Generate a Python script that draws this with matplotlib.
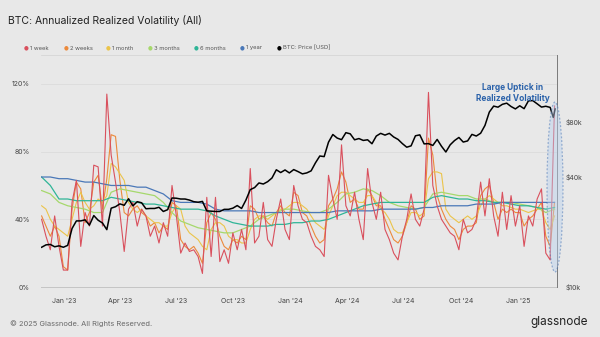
import numpy as np
import matplotlib
matplotlib.use('Agg')
import matplotlib.pyplot as plt
import matplotlib.dates as mdates
from matplotlib.patches import Ellipse
from matplotlib.ticker import FuncFormatter, FixedLocator, NullLocator

plt.rcParams['font.family'] = ['Inter', 'DejaVu Sans']

# weekly samples starting 2022-11-26 (annualized vol, %)
vol_1w = [40, 30, 22, 42, 24, 10, 10, 50, 63, 24, 44, 36, 72, 71, 36, 114, 78, 62, 44, 21, 46, 50, 36, 46, 42,
          30, 36, 26, 38, 30, 60, 42, 20, 26, 21, 22, 18, 8, 53, 18, 53, 15, 22, 14, 32, 22, 34, 22, 70, 26,
          30, 50, 28, 24, 40, 52, 34, 28, 60, 48, 40, 38, 30, 24, 22, 18, 66, 52, 40, 84, 48, 42, 56, 40,
          28, 70, 50, 40, 56, 34, 28, 20, 16, 30, 40, 55, 40, 36, 46, 115, 60, 48, 40, 36, 32, 30, 22, 40, 32,
          34, 40, 62, 42, 64, 42, 30, 56, 34, 54, 36, 48, 24, 42, 36, 52, 58, 20, 16, 107]
vol_2w = [42, 36, 30, 36, 30, 12, 10, 46, 62, 58, 38, 44, 62, 66, 46, 64, 90, 89, 63, 44, 42, 46, 48, 44, 42,
          36, 38, 32, 36, 34, 50, 48, 28, 24, 22, 24, 20, 14, 38, 44, 40, 30, 24, 22, 28, 26, 30, 28, 48, 46,
          40, 42, 38, 36, 44, 48, 44, 42, 56, 54, 44, 42, 36, 30, 26, 28, 48, 52, 58, 68, 62, 50, 52, 46,
          46, 58, 54, 48, 48, 40, 34, 28, 26, 30, 38, 48, 46, 40, 42, 88, 78, 54, 46, 40, 36, 34, 28, 34, 36,
          36, 38, 54, 58, 60, 50, 40, 46, 44, 46, 44, 44, 36, 40, 42, 46, 50, 30, 24, 50]
vol_1m = [48, 46, 40, 36, 34, 32, 30, 40, 50, 56, 50, 46, 48, 52, 50, 54, 73, 71, 67, 63, 50, 46, 44, 46, 42,
          40, 38, 38, 36, 36, 44, 48, 46, 36, 32, 30, 28, 24, 22, 34, 38, 38, 36, 30, 28, 28, 26, 26, 34, 40,
          42, 42, 40, 42, 44, 46, 46, 48, 50, 50, 48, 46, 42, 38, 36, 34, 42, 48, 54, 56, 56, 54, 52, 50,
          50, 54, 54, 50, 46, 44, 40, 34, 32, 32, 38, 44, 44, 42, 44, 64, 68, 68, 67, 46, 42, 40, 38, 40, 42,
          40, 42, 48, 52, 54, 52, 50, 48, 48, 47, 46, 46, 45, 44, 45, 46, 46, 38, 34, 42]

# two-weekly samples for the slower windows
vol_3m = [57, 55, 50, 48, 47, 46, 44, 44, 56, 58, 57, 56, 55, 54, 50, 44, 39, 37, 35, 34,
          33, 32, 32, 34, 36, 40, 42, 44, 46, 46, 45, 44, 44, 46, 50, 55, 56, 58, 57, 54,
          50, 48, 47, 46, 47, 55, 56, 55, 54, 54, 52, 52, 50, 50, 50, 49, 48, 47, 44, 46]
vol_6m = [65, 60, 52, 52, 51, 51, 51, 51, 53, 52, 51, 50, 49, 49, 48, 47, 46, 46, 46, 45,
          42, 40, 38, 37, 36, 36, 36, 37, 37, 38, 38, 39, 39, 40, 42, 44, 46, 48, 49, 50,
          50, 50, 50, 50, 50, 53, 54, 53, 52, 52, 51, 51, 50, 50, 49, 48, 48, 47, 46, 47]
vol_1y = [65, 65, 64, 64, 63, 62, 62, 61, 60, 60, 60, 59, 59, 57, 55, 51, 50, 50, 50, 49,
          46, 45, 45, 45, 45, 44, 44, 44, 44, 44, 44, 44, 44, 44, 45, 45, 45, 45, 45, 46,
          46, 46, 46, 46, 47, 47, 48, 48, 48, 48, 49, 49, 49, 50, 50, 50, 50, 50, 50, 50]

# BTC price in $k, weekly, plus the last days
price_k = [16.5, 17.0, 17.1, 16.6, 16.8, 16.5, 16.9, 20.9, 23.0, 23.0,
           23.3, 21.8, 24.6, 23.2, 22.4, 20.6, 27.0, 27.5, 28.5, 28.0,
           30.4, 27.8, 29.3, 28.9, 26.8, 26.9, 26.9, 27.3, 25.9, 26.5,
           30.7, 30.6, 30.3, 30.3, 29.9, 29.3, 29.1, 29.4, 26.1, 26.0,
           25.9, 25.9, 26.6, 26.6, 27.0, 27.9, 26.9, 29.9, 34.1, 35.0,
           37.1, 36.6, 37.7, 39.5, 43.8, 42.3, 43.7, 42.1, 43.9, 42.8,
           41.6, 42.1, 43.2, 47.8, 52.1, 51.7, 62.0, 68.3, 65.3, 64.0,
           69.9, 68.9, 63.9, 64.9, 63.4, 63.9, 60.8, 67.0, 69.3, 67.8,
           69.3, 66.2, 64.2, 60.9, 58.2, 59.2, 67.2, 68.0, 60.7, 60.9,
           59.5, 64.2, 58.9, 54.8, 60.0, 63.3, 65.8, 62.1, 63.0, 68.4,
           67.0, 69.4, 76.6, 90.6, 97.7, 96.4, 99.9, 101.4, 97.2, 94.3,
           98.1, 94.6, 104.4, 104.7, 100.6, 96.5, 97.5, 96.1]
price_tail_dates = ['2025-02-27', '2025-03-02']
price_tail_k = [84.7, 94.2]

legend_labels = ['1 week', '2 weeks', '1 month', '3 months', '6 months', '1 year', 'BTC: Price [USD]']
colors = ['#d9505d', '#ec8a3c', '#ebc44a', '#a6d86c', '#2fb597', '#4a78b8', '#000000']

start = np.datetime64('2022-11-26')
week_dates = start + np.arange(len(vol_1w)) * np.timedelta64(7, 'D')
slow_dates = start + np.arange(len(vol_3m)) * np.timedelta64(14, 'D')
price_dates = np.concatenate([week_dates[:len(price_k)],
                              np.array(price_tail_dates, dtype='datetime64[D]')])
price = np.array(price_k + price_tail_k) * 1000

bg = '#e8e8e8'
fig = plt.figure(figsize=(6, 3.37), dpi=100, facecolor=bg)
ax = fig.add_axes([41 / 600, 1 - 287 / 337, 516 / 600, 232 / 337], facecolor=bg)

ax.plot(week_dates, vol_2w, color=colors[1], lw=0.8, zorder=3)
ax.plot(week_dates, vol_1m, color=colors[2], lw=0.8, zorder=3)
ax.plot(slow_dates, vol_3m, color=colors[3], lw=0.9, zorder=4)
ax.plot(slow_dates, vol_6m, color=colors[4], lw=0.9, zorder=4)
ax.plot(slow_dates, vol_1y, color=colors[5], lw=0.9, zorder=4)
ax.plot(week_dates, vol_1w, color=colors[0], lw=0.8, zorder=4.5)

ax.set_xlim(np.datetime64('2022-11-25'), np.datetime64('2025-03-05'))
ax.set_ylim(0, 137.1)
ax.set_yticks([0, 40, 80, 120])
ax.yaxis.set_major_formatter(FuncFormatter(lambda v, p: '%d%%' % v))
ax.grid(axis='y', color='#dcdcdc', lw=0.6)
ax.set_axisbelow(True)

xt = ['2023-01-01', '2023-04-01', '2023-07-01', '2023-10-01', '2024-01-01',
      '2024-04-01', '2024-07-01', '2024-10-01', '2025-01-01']
ax.set_xticks([mdates.date2num(np.datetime64(d)) for d in xt])
ax.xaxis.set_major_formatter(mdates.DateFormatter("%b '%y"))
ax.tick_params(axis='both', length=0, labelsize=5, labelcolor='#444444')
ax.tick_params(axis='x', pad=8)
ax.tick_params(axis='y', pad=8)

for s in ['left', 'right']:
    ax.spines[s].set_visible(False)
ax.spines['top'].set_color('#d6d6d6')
ax.spines['top'].set_linewidth(0.6)
ax.spines['bottom'].set_color('#c4c4c4')
ax.spines['bottom'].set_linewidth(0.7)

ax2 = ax.twinx()
ax2.plot(price_dates, price, color='black', lw=1.1, zorder=5)
ax2.set_yscale('log')
ax2.set_ylim(10000, 186000)
ax2.yaxis.set_major_locator(FixedLocator([10000, 40000, 80000]))
ax2.yaxis.set_minor_locator(NullLocator())
ax2.yaxis.set_major_formatter(FuncFormatter(lambda v, p: '$%dk' % (v / 1000)))
ax2.tick_params(axis='y', length=0, labelsize=5, labelcolor='#444444', pad=6)
for s in ['left', 'top', 'bottom']:
    ax2.spines[s].set_visible(False)
ax2.spines['right'].set_color('#7a7a7a')
ax2.spines['right'].set_linewidth(0.7)

# highlight of the last spike
ell = Ellipse((555 / 600, 1 - 187 / 337), 16 / 600, 170 / 337, transform=fig.transFigure,
              facecolor='#b9d0ee', alpha=0.45, edgecolor='#3466ad', ls=(0, (1.5, 1.5)), lw=0.9, zorder=6)
fig.patches.append(ell)
fig.text(513 / 600, 1 - 93 / 337, 'Large Uptick in\nRealized Volatility', ha='center', va='center',
         fontsize=6.0, fontweight='bold', color='#2b62aa', linespacing=1.25)

fig.text(8 / 600, 1 - 20 / 337, 'BTC: Annualized Realized Volatility (All)', ha='left', va='center',
         fontsize=7.5, color='#222222')

leg_x = [26, 66, 108, 150, 196, 242, 279]
for x, lab, c in zip(leg_x, legend_labels, colors):
    fig.text(x / 600, 1 - 48 / 337, '\u25cf', color=c, fontsize=4, ha='center', va='center',
             family='DejaVu Sans')
    fig.text((x + 4) / 600, 1 - 48 / 337, lab, color='#555555', fontsize=4.2, ha='left', va='center')

fig.text(10 / 600, 1 - 324 / 337, '\u00a9 2025 Glassnode. All Rights Reserved.', ha='left', va='center',
         fontsize=5.4, color='#6a6a6a')
fig.text(588 / 600, 1 - 322 / 337, 'glassnode', ha='right', va='center', fontsize=8.5, color='#222222')

fig.savefig('out.png', dpi=100, facecolor=bg)
